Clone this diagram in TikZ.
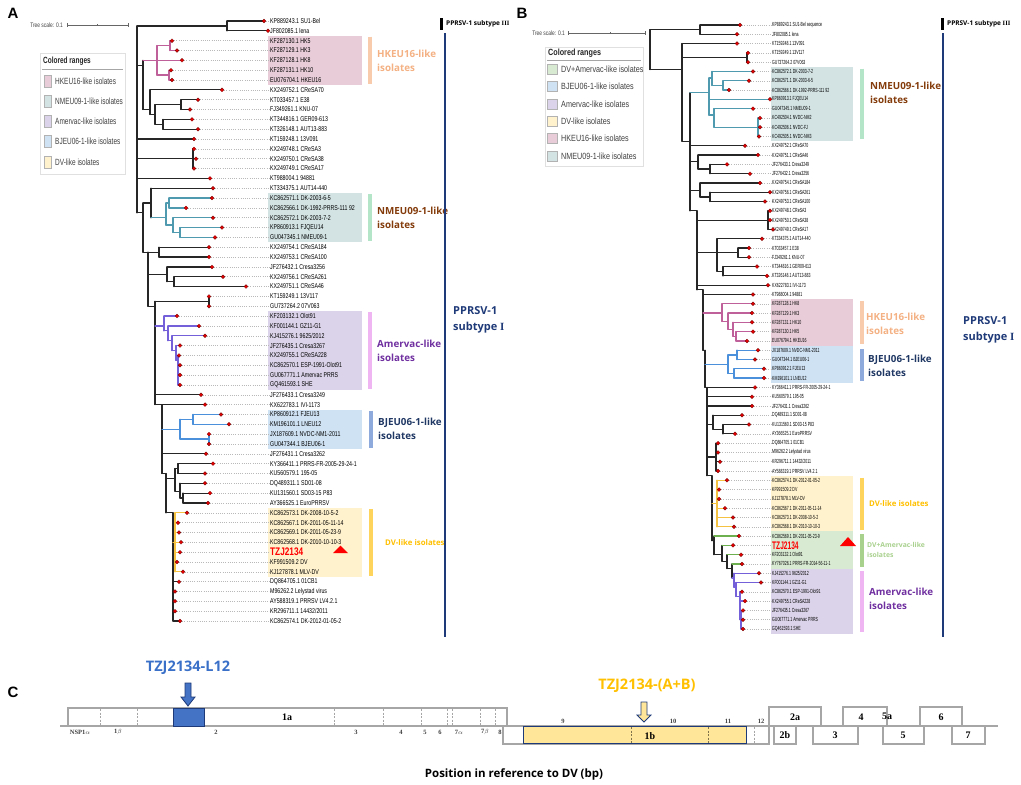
\documentclass[tikz,border=0pt]{standalone}
\usepackage{fontspec}
\setmainfont{Liberation Sans}
\newfontfamily\lblfont[FakeStretch=0.75]{Liberation Sans}
\newfontfamily\lblfontB[FakeStretch=0.6]{Liberation Sans}
\newfontfamily\lgdfont[FakeStretch=0.72]{Liberation Sans}
\newfontfamily\lgdfontB[FakeStretch=0.8]{Liberation Sans}
\newfontfamily\opensans{Open Sans}
\newfontfamily\orfserif{Liberation Serif}

\definecolor{hkbox}{HTML}{E8CDD8}
\definecolor{nmbox}{HTML}{D3E3E4}
\definecolor{ambox}{HTML}{DBD3E9}
\definecolor{bjbox}{HTML}{CFE2F3}
\definecolor{dvbox}{HTML}{FFF2CC}
\definecolor{dabox}{HTML}{D9EAD3}
\definecolor{hkbar}{HTML}{F8CBAD}
\definecolor{nmbar}{HTML}{B4E5C8}
\definecolor{ambar}{HTML}{EFB5F2}
\definecolor{bjbar}{HTML}{8EA9DB}
\definecolor{dvbar}{HTML}{FFD45C}
\definecolor{dabar}{HTML}{A9D18E}
\definecolor{hktxt}{HTML}{F4B183}
\definecolor{nmtxt}{HTML}{843C0C}
\definecolor{amtxt}{HTML}{7030A0}
\definecolor{bjtxt}{HTML}{203864}
\definecolor{dvtxt}{HTML}{FFC000}
\definecolor{datxt}{HTML}{A9D18E}
\definecolor{subnavy}{HTML}{1F3A78}
\definecolor{hkbr}{HTML}{C0609A}
\definecolor{nmbr}{HTML}{4F9AAE}
\definecolor{ambr}{HTML}{7460D8}
\definecolor{bjbr}{HTML}{4A90DA}
\definecolor{dvbr}{HTML}{F5C242}
\definecolor{dabr}{HTML}{6DB04F}
\definecolor{orfgray}{HTML}{A6A6A6}
\definecolor{l12blue}{HTML}{3A70C8}
\definecolor{nspblue}{HTML}{4472C4}
\definecolor{abgold}{HTML}{FFC000}
\definecolor{orfyel}{HTML}{FFE699}

% leaf: parent x, row, tip x, label
\newcommand\leaf[4]{%
  \draw[br] (#1,#2) -- (#3,#2);
  \draw[tipline] (#3,#2) -- (\labx,#2);
  \node[lbl] (\pfx#2) at (\labx,#2) {#4};
  \fill[tipdot] (#3,#2) circle[radius=1.9pt];
}
% clade: parent x, attach row, node x, top row, bottom row
\newcommand\clade[5]{\draw[br] (#1,#2) -- (#3,#2) (#3,#4) -- (#3,#5);}
\newcommand\tzj{\color{red}\bfseries\fontsize{11}{11}\selectfont}

\tikzset{
  br/.style={draw=black!85, line width=1.2pt, line cap=round},
  tipline/.style={draw=gray!55, line width=0.5pt, dash pattern=on 0.6pt off 1.6pt},
  tipdot/.style={fill=red!90!black, draw=red!45!black, line width=0.3pt},
  panel/.style={inner sep=0pt, font=\bfseries\fontsize{15}{15}\selectfont},
  scl/.style={anchor=east, inner sep=0pt, text=black!75, font=\lblfont\fontsize{6.5}{6.5}\selectfont},
  sclbar/.style={draw=black!60, line width=0.6pt},
  lgdbox/.style={draw=black!12, fill=white, line width=0.5pt},
  cladetxt/.style={anchor=west, align=left, inner sep=0pt, font=\opensans\bfseries\fontsize{9.8}{14}\selectfont},
  cladebar/.style={line width=4pt},
  subtxt/.style={anchor=west, align=left, inner sep=0pt, text=subnavy, font=\opensans\bfseries\fontsize{11}{16}\selectfont},
  smalltxt/.style={anchor=west, inner sep=0pt, font=\opensans\bfseries\fontsize{6.5}{6.5}\selectfont},
  orf/.style={draw=orfgray, line width=1.8pt},
  orfsep/.style={draw=orfgray, line width=1pt, dash pattern=on 2pt off 1.5pt},
  orfnum/.style={inner sep=0pt, text=black!75, font=\orfserif\bfseries\fontsize{6.5}{6.5}\selectfont},
  orfname/.style={inner sep=0pt, font=\orfserif\bfseries\fontsize{10}{10}\selectfont},
}

\begin{document}
\begin{tikzpicture}[x=1pt,y=-1pt]
\useasboundingbox (0,0) rectangle (1021,785);
\fill[white] (0,0) rectangle (1021,785);

%%%%% panel A
\node[panel] (pA) at (13,13) {A};
\node[scl] (sclA) at (63,25) {Tree scale: 0.1};
\draw[sclbar] (67,25) -- (128,25) (67,23) -- (67,27) (97,24) -- (97,26) (128,23) -- (128,27);
\draw[lgdbox] (40,53) rectangle (125,174);
\node[anchor=west, inner sep=0pt, text=black!85, font=\lgdfont\bfseries\fontsize{9}{9}\selectfont] (lgdA) at (43,61) {Colored ranges};
\draw[black!35, line width=0.8pt] (42,69) -- (123,69);
\foreach \c/\t [count=\i] in {hkbox/HKEU16-like isolates, nmbox/NMEU09-1-like isolates,
    ambox/Amervac-like isolates, bjbox/BJEU06-1-like isolates, dvbox/DV-like isolates}{
  \filldraw[fill=\c, draw=black!30, line width=0.5pt] (44,{75+20.2*(\i-1)}) rectangle (51,{87+20.2*(\i-1)});
  \node[anchor=west, inner sep=0pt, text=black!75, font=\lgdfont\fontsize{9}{9}\selectfont] (lgdA\i) at (55,{81+20.2*(\i-1)}) {\t};
}

\begin{scope}[yshift=-11.164pt, y={(0pt,-9.836pt)},
    lbl/.style={anchor=west, inner sep=0pt, font=\lblfont\fontsize{7}{7}\selectfont}]
\def\labx{270}\def\pfx{a}
% coloured ranges
\fill[hkbox] (268,2.5) rectangle (362,7.5);
\fill[nmbox] (268,18.5) rectangle (362,23.5);
\fill[ambox] (268,30.5) rectangle (362,38.5);
\fill[bjbox] (268,40.5) rectangle (362,44.5);
\fill[dvbox] (268,50.5) rectangle (362,57.5);
\draw[cladebar, hkbar] (370,2.6) -- (370,7.4);
\draw[cladebar, nmbar] (370,18.6) -- (370,23.4);
\draw[cladebar, ambar] (370,30.6) -- (370,38.4);
\draw[cladebar, bjbar] (371,40.6) -- (371,44.4);
\draw[cladebar, dvbar] (371,50.6) -- (371,57.4);
\node[cladetxt, text=hktxt] (hkA) at (377,5) {HKEU16-like\\isolates};
\node[cladetxt, text=nmtxt] (nmA) at (377,21) {NMEU09-1-like\\isolates};
\node[cladetxt, text=amtxt] (amA) at (377,34.5) {Amervac-like\\isolates};
\node[cladetxt, text=bjtxt] (bjA) at (378,42.5) {BJEU06-1-like\\isolates};
\node[cladetxt, text=dvtxt, font=\opensans\bfseries\fontsize{7.8}{10}\selectfont] (dvA) at (385,54) {DV-like isolates};
% tree
\draw[br] (137,1.5) -- (137,20.5);
\clade{137}{1.5}{227}{1}{2}
\leaf{227}{1}{264}{KP889243.1 SU1-Bel}
\leaf{227}{2}{268}{JF802085.1 lena}
\clade{137}{5.5}{143}{5}{10}
\begin{scope}[br/.append style={draw=hkbr, line width=1.3pt}]
\clade{143}{5}{157}{3.5}{6.5}
\clade{157}{3.5}{170}{3}{4}
\leaf{170}{3}{172}{KF287130.1 HK5}
\leaf{170}{4}{177}{KF287129.1 HK3}
\leaf{157}{5}{182}{KF287128.1 HK8}
\clade{157}{6.5}{169}{6}{7}
\leaf{169}{6}{171}{KF287131.1 HK10}
\leaf{169}{7}{172}{EU076704.1 HKEU16}
\end{scope}
\clade{143}{10}{150}{8}{10.5}
\leaf{150}{8}{222}{KX249752.1 CReSA70}
\clade{150}{10.5}{155}{9.5}{11.5}
\clade{155}{9.5}{181}{9}{10}
\leaf{181}{9}{198}{KT033457.1 E38}
\leaf{181}{10}{190}{FJ349261.1 KNU-07}
\clade{155}{11.5}{163}{11}{12}
\leaf{163}{11}{192}{KT344816.1 GER09-613}
\leaf{163}{12}{198}{KT326148.1 AUT13-883}
\leaf{137}{13}{194}{KT159248.1 13V091}
\clade{137}{15}{193}{14}{16}
\leaf{193}{14}{194}{KX249748.1 CReSA3}
\leaf{193}{15}{196}{KX249750.1 CReSA38}
\leaf{193}{16}{194}{KX249749.1 CReSA17}
\leaf{137}{17}{210}{KT988004.1 94881}
\clade{137}{20.5}{143}{19.5}{24.5}
\clade{143}{19.5}{151}{18}{21}
\leaf{151}{18}{213}{KT334375.1 AUT14-440}
\begin{scope}[br/.append style={draw=nmbr, line width=1.3pt}]
\clade{151}{21}{166}{19.5}{21.75}
\clade{166}{19.5}{169}{19}{20}
\leaf{169}{19}{212}{KC862571.1 DK-2003-6-5}
\leaf{169}{20}{186}{KC862566.1 DK-1992-PRRS-111 92}
\clade{166}{21.75}{173}{21}{22.5}
\leaf{173}{21}{213}{KC862572.1 DK-2003-7-2}
\clade{173}{22.5}{180}{22}{23}
\leaf{180}{22}{222}{KP860913.1 FJQEU14}
\leaf{180}{23}{215}{GU047345.1 NMEU09-1}
\end{scope}
\clade{143}{24.5}{148}{24.5}{30}
\clade{148}{24.5}{159}{24}{25}
\leaf{159}{24}{209}{KX249754.1 CReSA184}
\leaf{159}{25}{209}{KX249753.1 CReSA100}
\clade{148}{26.8}{167}{26}{27.5}
\leaf{167}{26}{212}{JF276432.1 Cresa3256}
\clade{167}{27.5}{174}{27}{28}
\leaf{174}{27}{223}{KX249756.1 CReSA261}
\leaf{174}{28}{246}{KX249751.1 CReSA46}
\clade{148}{30}{155}{29.5}{40}
\clade{155}{29.5}{209}{29}{30}
\leaf{209}{29}{209}{KT159249.1 13V117}
\leaf{209}{30}{209}{GU737264.2 07V063}
\begin{scope}[br/.append style={draw=ambr, line width=1.3pt}]
\clade{155}{32}{164}{31}{32.5}
\leaf{164}{31}{177}{KF203132.1 Olot91}
\clade{164}{32.5}{168}{32}{33.5}
\leaf{168}{32}{199}{KF001144.1 GZ11-G1}
\clade{168}{33.5}{172}{33}{34.5}
\leaf{172}{33}{205}{KJ415276.1 9625/2012}
\clade{172}{34.5}{176}{34}{35.5}
\leaf{176}{34}{180}{JF276435.1 Cresa3267}
\clade{176}{35.5}{178}{35}{38}
\leaf{178}{35}{179}{KX249755.1 CReSA228}
\leaf{178}{36}{180}{KC862570.1 ESP-1991-Olot91}
\leaf{178}{37}{180}{GU067771.1 Amervac PRRS}
\leaf{178}{38}{180}{GQ461593.1 SHE}
\end{scope}
\leaf{155}{39}{201}{JF276433.1 Cresa3249}
\clade{155}{40}{162}{40}{47}
\leaf{162}{40}{205}{KX622783.1 IVI-1173}
\begin{scope}[br/.append style={draw=bjbr, line width=1.3pt}]
\clade{162}{42.5}{180}{41.5}{43.5}
\clade{180}{41.5}{193}{41}{42}
\leaf{193}{41}{221}{KP860912.1 FJEU13}
\leaf{193}{42}{229}{KM196101.1 LNEU12}
\clade{180}{43.5}{209}{43}{44}
\leaf{209}{43}{209}{JX187609.1 NVDC-NM1-2011}
\leaf{209}{44}{209}{GU047344.1 BJEU06-1}
\end{scope}
\leaf{162}{45}{206}{JF276431.1 Cresa3262}
\clade{162}{47}{166}{47}{51}
\clade{166}{47.5}{175}{46.5}{48.8}
\clade{175}{46.5}{178}{46}{47}
\leaf{178}{46}{213}{KY366411.1 PRRS-FR-2005-29-24-1}
\leaf{178}{47}{205}{KU560579.1 195-05}
\clade{175}{48.8}{180}{48}{49.5}
\leaf{180}{48}{205}{DQ489311.1 SD01-08}
\clade{180}{49.5}{183}{49}{50}
\leaf{183}{49}{210}{KU131560.1 SD03-15 P83}
\leaf{183}{50}{208}{AY366525.1 EuroPRRSV}
\clade{166}{51}{173}{51}{62}
\begin{scope}[br/.append style={draw=dvbr, line width=1.3pt}]
\clade{173}{54}{175}{51}{57}
\leaf{175}{51}{187}{KC862573.1 DK-2008-10-5-2}
\leaf{175}{52}{178}{KC862567.1 DK-2011-05-11-14}
\leaf{175}{53}{179}{KC862569.1 DK-2011-05-23-9}
\leaf{175}{54}{181}{KC862568.1 DK-2010-10-10-3}
\leaf{175}{55}{180}{{\tzj TZJ2134}}
\leaf{175}{56}{177}{KF991509.2 DV}
\leaf{175}{57}{183}{KJ127878.1 MLV-DV}
\end{scope}
\leaf{173}{58}{179}{DQ864705.1 01CB1}
\leaf{173}{59}{175}{M96262.2 Lelystad virus}
\leaf{173}{60}{175}{AY588319.1 PRRSV LV4.2.1}
\leaf{173}{61}{175}{KR296711.1 14432/2011}
\leaf{173}{62}{180}{KC862574.1 DK-2012-01-05-2}
\end{scope}
\fill[red] (333,553) -- (348,553) -- (340.5,545.5) -- cycle;
% subtypes A
\fill[black] (440,18) rectangle (443,30);
\node[smalltxt] (s3A) at (446,24) {PPRSV-1 subtype {\orfserif III}};
\draw[subnavy, line width=2.2pt] (445,33) -- (445,637);
\node[subtxt] (s1A) at (453,320) {PPRSV-1\\subtype {\orfserif I}};

%%%%% panel B
\node[panel] (pB) at (522,13) {B};
\node[scl] (sclB) at (565,33) {Tree scale: 0.1};
\draw[sclbar] (568,33) -- (645,33) (568,31) -- (568,35) (610,32) -- (610,34) (645,31) -- (645,35);
\draw[lgdbox] (545,47) rectangle (643,166);
\node[anchor=west, inner sep=0pt, text=black!85, font=\lgdfontB\bfseries\fontsize{9}{9}\selectfont] (lgdB) at (548,53) {Colored ranges};
\draw[black!35, line width=0.8pt] (547,60) -- (641,60);
\foreach \c/\t [count=\i] in {dabox/DV+Amervac-like isolates, bjbox/BJEU06-1-like isolates,
    ambox/Amervac-like isolates, dvbox/DV-like isolates, hkbox/HKEU16-like isolates,
    nmbox/NMEU09-1-like isolates}{
  \filldraw[fill=\c, draw=black!30, line width=0.5pt] (547,{64+17.4*(\i-1)}) rectangle (557,{74+17.4*(\i-1)});
  \node[anchor=west, inner sep=0pt, text=black!75, font=\lgdfontB\fontsize{9}{9}\selectfont] (lgdB\i) at (561,{69+17.4*(\i-1)}) {\t};
}

\begin{scope}[yshift=-15.708pt, y={(0pt,-9.292pt)},
    lbl/.style={anchor=west, inner sep=0pt, font=\lblfontB\fontsize{5.9}{5.9}\selectfont}]
\def\labx{772}\def\pfx{b}
\fill[nmbox] (771,5.5) rectangle (853,13.5);
\fill[hkbox] (771,30.5) rectangle (853,35.5);
\fill[bjbox] (771,35.5) rectangle (853,39.5);
\fill[dvbox] (771,49.5) rectangle (853,55.5);
\fill[dabox] (771,55.5) rectangle (853,59.5);
\fill[ambox] (771,59.5) rectangle (853,66.5);
\draw[cladebar, nmbar] (862,5.7) -- (862,13.3);
\draw[cladebar, hkbar] (862,30.7) -- (862,35.3);
\draw[cladebar, bjbar] (862,35.9) -- (862,39.3);
\draw[cladebar, dvbar] (862,49.7) -- (862,55.3);
\draw[cladebar, dabar] (862,55.8) -- (862,59.3);
\draw[cladebar, ambar] (862,59.8) -- (862,66.3);
\node[cladetxt, text=nmtxt] (nmB) at (870,8.3) {NMEU09-1-like\\isolates};
\node[cladetxt, text=hktxt] (hkB) at (866,33.2) {HKEU16-like\\isolates};
\node[cladetxt, text=bjtxt] (bjB) at (868,37.7) {BJEU06-1-like\\isolates};
\node[cladetxt, text=dvtxt, font=\opensans\bfseries\fontsize{7.8}{10}\selectfont] (dvB) at (869,52.5) {DV-like isolates};
\node[cladetxt, text=datxt, font=\opensans\bfseries\fontsize{6.8}{10}\selectfont] (daB) at (867,57.5) {DV+Amervac-like\\isolates};
\node[cladetxt, text=amtxt] (amB) at (869,62.8) {Amervac-like\\isolates};
% tree
\draw[br] (650,1.5) -- (650,5.8);
\clade{650}{1.5}{700}{1}{2}
\leaf{700}{1}{740}{KP889243.1 SU1-Bel sequence}
\leaf{700}{2}{737}{JF802085.1 lena}
\clade{650}{5.8}{682}{3}{13.5}
\leaf{682}{3}{737}{KT159248.1 13V091}
\clade{682}{4.5}{747}{4}{5}
\leaf{747}{4}{748}{KT159249.1 13V117}
\leaf{747}{5}{748}{GU737264.2 07V063}
\clade{682}{13.5}{690}{8.3}{21}
\begin{scope}[br/.append style={draw=nmbr, line width=1.3pt}]
\clade{690}{8.3}{709}{6.7}{10.7}
\clade{709}{6.7}{712}{6}{7.5}
\leaf{712}{6}{753}{KC862572.1 DK-2003-7-2}
\clade{712}{7.5}{723}{7}{8}
\leaf{723}{7}{749}{KC862571.1 DK-2003-6-5}
\leaf{723}{8}{729}{KC862566.1 DK-1992-PRRS-111 92}
\leaf{709}{9}{770}{KP860913.1 FJQEU14}
\clade{709}{10.7}{714}{10}{12}
\leaf{714}{10}{753}{GU047345.1 NMEU09-1}
\clade{714}{12}{758}{11}{13}
\leaf{758}{11}{760}{KC492504.1 NVDC-NM2}
\leaf{758}{12}{760}{KC492506.1 NVDC-FJ}
\leaf{758}{13}{759}{KC492505.1 NVDC-NM3}
\end{scope}
\leaf{690}{14}{745}{KX249752.1 CReSA70}
\clade{690}{15.7}{698}{15}{16.5}
\leaf{698}{15}{758}{KX249751.1 CReSA46}
\clade{698}{16.5}{710}{16}{17}
\leaf{710}{16}{727}{JF276433.1 Cresa3249}
\leaf{710}{17}{750}{JF276432.1 Cresa3256}
\clade{690}{18.8}{700}{18}{19.5}
\leaf{700}{18}{760}{KX249754.1 CReSA184}
\clade{700}{19.5}{710}{19}{20}
\leaf{710}{19}{770}{KX249756.1 CReSA261}
\leaf{710}{20}{765}{KX249753.1 CReSA100}
\clade{690}{21}{697}{21}{29.5}
\clade{697}{22}{768}{21}{23}
\leaf{768}{21}{770}{KX249748.1 CReSA3}
\leaf{768}{22}{770}{KX249750.1 CReSA38}
\leaf{768}{23}{773}{KX249749.1 CReSA17}
\clade{697}{25.5}{717}{24}{27.5}
\leaf{717}{24}{762}{KT334375.1 AUT14-440}
\clade{717}{25.5}{738}{25}{26}
\leaf{738}{25}{749}{KT033457.1 E38}
\leaf{738}{26}{749}{FJ349261.1 KNU-07}
\clade{717}{27.5}{723}{27}{28}
\leaf{723}{27}{757}{KT344816.1 GER09-613}
\leaf{723}{28}{767}{KT326148.1 AUT13-883}
\leaf{697}{29}{768}{KX622783.1 IVI-1173}
\clade{697}{29.5}{703}{29.5}{36}
\leaf{703}{30}{753}{KT988004.1 94881}
\begin{scope}[br/.append style={draw=hkbr, line width=1.3pt}]
\clade{703}{32}{722}{31}{32.9}
\leaf{722}{31}{753}{KF287128.1 HK8}
\clade{722}{32.9}{728}{32}{33.75}
\leaf{728}{32}{752}{KF287129.1 HK3}
\clade{728}{33.75}{733}{33}{34.5}
\leaf{733}{33}{752}{KF287131.1 HK10}
\clade{733}{34.5}{736}{34}{35}
\leaf{736}{34}{753}{KF287130.1 HK5}
\leaf{736}{35}{747}{EU076794.1 HKEU16}
\end{scope}
\clade{703}{36}{705}{36}{40}
\begin{scope}[br/.append style={draw=bjbr, line width=1.3pt}]
\clade{705}{37.5}{728}{36.5}{38.5}
\clade{728}{36.5}{737}{36}{37}
\leaf{737}{36}{758}{JX187609.1 NVDC-NM1-2011}
\leaf{737}{37}{755}{GU047344.1 BJEU06-1}
\clade{728}{38.5}{734}{38}{39}
\leaf{734}{38}{764}{KP860912.1 FJEU13}
\leaf{734}{39}{764}{KM196101.1 LNEU12}
\end{scope}
\clade{705}{40}{707}{40}{49.5}
\leaf{707}{40}{755}{KY366411.1 PRRS-FR-2005-29-24-1}
\leaf{707}{41}{752}{KU560579.1 195-05}
\leaf{707}{42}{752}{JF276431.1 Cresa3262}
\clade{707}{44}{713}{43}{44.5}
\leaf{713}{43}{742}{DQ489311.1 SD01-08}
\clade{713}{44.5}{723}{44}{45}
\leaf{723}{44}{749}{KU131560.1 SD03-15 P83}
\leaf{723}{45}{735}{AY366525.1 EuroPRRSV}
\clade{707}{47.5}{716}{46}{49}
\leaf{716}{46}{718}{DQ864705.1 01CB1}
\leaf{716}{47}{718}{M96262.2 Lelystad virus}
\leaf{716}{48}{720}{KR296711.1 14432/2011}
\leaf{716}{49}{718}{AY588319.1 PRRSV LV4.2.1}
\clade{707}{49.5}{712}{49.5}{56.5}
\begin{scope}[br/.append style={draw=dvbr, line width=1.3pt}]
\clade{712}{52.5}{717}{50}{55}
\leaf{717}{50}{727}{KC862574.1 DK-2012-01-05-2}
\leaf{717}{51}{719}{KF991509.2 DV}
\leaf{717}{52}{719}{KJ127878.1 MLV-DV}
\leaf{717}{53}{725}{KC862567.1 DK-2011-05-11-14}
\leaf{717}{54}{733}{KC862573.1 DK-2008-10-5-2}
\leaf{717}{55}{734}{KC862568.1 DK-2010-10-10-3}
\end{scope}
\clade{712}{56.5}{714}{56}{58}
\clade{714}{58}{722}{57}{58.7}
\clade{722}{58.7}{727}{58}{59.5}
\clade{727}{59.5}{732}{59}{60.5}
\begin{scope}[br/.append style={draw=dabr, line width=1.3pt}]
\leaf{714}{56}{739}{KC862569.1 DK-2011-05-23-9}
\leaf{722}{57}{733}{{\tzj TZJ2134}}
\leaf{727}{58}{741}{KF203132.1 Olot91}
\leaf{732}{59}{742}{KY767026.1 PRRS-FR-2014-56-11-1}
\end{scope}
\begin{scope}[br/.append style={draw=ambr, line width=1.3pt}]
\clade{732}{60.5}{734}{60}{61.5}
\leaf{734}{60}{759}{KJ415276.1 9625/2012}
\clade{734}{61.5}{736}{61}{62.5}
\leaf{736}{61}{761}{KF001144.1 GZ11-G1}
\clade{736}{62.5}{740}{62}{65}
\leaf{740}{62}{742}{KC862570.1 ESP-1991-Olot91}
\leaf{740}{63}{745}{KX249755.1 CReSA228}
\clade{740}{65}{741}{64}{66}
\leaf{741}{64}{743}{JF276435.1 Cresa3267}
\leaf{741}{65}{743}{GU067771.1 Amervac PRRS}
\leaf{741}{66}{743}{GQ461593.1 SHE}
\end{scope}
\end{scope}
\fill[red] (840,546) -- (856,546) -- (848,537) -- cycle;
% subtypes B
\fill[black] (941,18) rectangle (944,30);
\node[smalltxt] (s3B) at (947,24) {PPRSV-1 subtype {\orfserif III}};
\draw[subnavy, line width=2.2pt] (943,33) -- (943,637);
\node[subtxt] (s1B) at (963,330) {PPRSV-1\\subtype {\orfserif I}};

%%%%% panel C
\node[panel] (pC) at (13,692) {C};
\node[inner sep=0pt, text=l12blue, font=\opensans\bfseries\fontsize{14.5}{14.5}\selectfont] (l12) at (188,668) {TZJ2134-L12};
\node[inner sep=0pt, text=abgold, font=\opensans\bfseries\fontsize{14.5}{14.5}\selectfont] (ab) at (647,686) {TZJ2134-(A+B)};
% ORF1a
\draw[orf] (60,726) -- (68,726) -- (68,708) -- (507,708) -- (507,726) -- cycle;
\fill[nspblue, draw=subnavy, line width=0.8pt] (173,708) rectangle (204,726);
\foreach \sx in {100,137,334,383,421,447,452,480,495}
  \draw[orfsep] (\sx,709) -- (\sx,725);
\node[orfname] (o1a) at (287,717) {1a};
\foreach \px/\pt in {80/NSP1$\alpha$, 118/1$\beta$, 216/2, 356/3, 401/4, 425/5, 440/6, 459/7$\alpha$, 485/7$\beta$, 500/8}
  \node[orfnum] at (\px,732) {\pt};
% ORF1b
\draw[orf] (503,726) rectangle (769,744);
\filldraw[fill=orfyel, draw=subnavy, line width=0.9pt] (523,726.5) rectangle (746,743.5);
\draw[orfsep, draw=black!50!orfyel] (631,727) -- (631,743) (708,727) -- (708,743);
\draw[orfsep] (754,727) -- (754,743);
\node[orfname] (o1b) at (650,736) {1b};
\foreach \px/\pt in {563/9, 673/10, 728/11, 761/12}
  \node[orfnum] at (\px,721) {\pt};
% structural ORFs
\draw[orf] (769,726) -- (998,726);
\draw[orf] (769,707) rectangle (821,726);
\draw[orf] (774,726) rectangle (796,744);
\draw[orf] (813,726) rectangle (858,744);
\draw[orf] (843,707) rectangle (887,726);
\draw[orf] (883,726) rectangle (924,744);
\draw[orf] (920,707) rectangle (962,726);
\draw[orf] (952,726) rectangle (985,744);
\node[orfname] (o2a) at (795,717) {2a};
\node[orfname] (o2b) at (785,735) {2b};
\node[orfname] (o3) at (835,735) {3};
\node[orfname] (o4) at (861,717) {4};
\node[orfname] (o5a) at (887,716) {5a};
\node[orfname] (o5) at (903,735) {5};
\node[orfname] (o6) at (941,717) {6};
\node[orfname] (o7) at (968,735) {7};
% arrows
\filldraw[fill=nspblue, draw=subnavy, line width=0.8pt] (185,683) -- (191,683) -- (191,697) -- (195,697) -- (188,706) -- (181,697) -- (185,697) -- cycle;
\filldraw[fill=orfyel, draw=subnavy, line width=0.8pt] (641,702) -- (647,702) -- (647,715) -- (651,715) -- (644,722) -- (637,715) -- (641,715) -- cycle;
\node[inner sep=0pt, font=\opensans\bfseries\fontsize{11.5}{11.5}\selectfont] (posDV) at (514,774) {Position in reference to DV (bp)};
\end{tikzpicture}
\end{document}
